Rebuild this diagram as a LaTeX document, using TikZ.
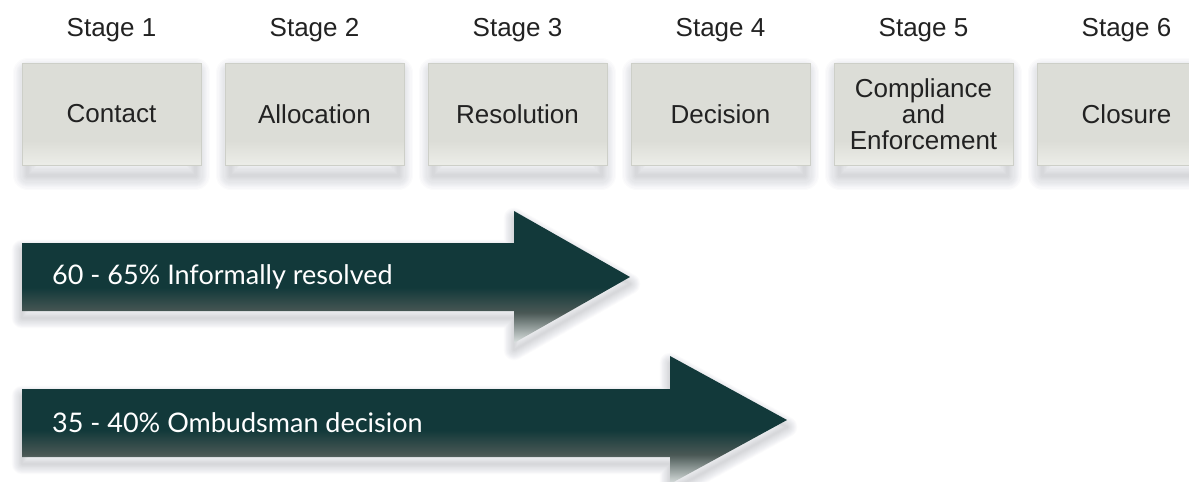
\documentclass[tikz,border=0pt]{standalone}
\usepackage{fontspec}
\setmainfont{Liberation Sans}
\newfontfamily\arrowfont{Lato}
\usetikzlibrary{backgrounds}

\definecolor{textgray}{HTML}{222222}
\definecolor{boxtop}{HTML}{DCDDD7}
\definecolor{boxlow}{HTML}{ECEDE8}
\definecolor{boxedge}{HTML}{CDCFC8}
\definecolor{tealdark}{HTML}{12393A}
\definecolor{tealmid}{HTML}{4A5855}
\definecolor{teallow}{HTML}{DDE3E2}
\definecolor{shadowtint}{HTML}{30344A}

% stage boxes: flat grey with a lighter band along the bottom
\pgfdeclareverticalshading{boxshade}{100bp}{%
  color(0bp)=(boxlow); color(25bp)=(boxlow); color(37bp)=(boxtop); color(100bp)=(boxtop)}
% outcome arrows: dark teal that lightens towards the lower edge
\pgfdeclareverticalshading{arrowshade}{100bp}{%
  color(0bp)=(teallow); color(25bp)=(teallow); color(36.5bp)=(tealmid);
  color(46bp)=(tealdark); color(100bp)=(tealdark)}

% soft drop shadow: stacked faint strokes of growing width
% #1 = opacity of one layer, #2 = width step, #3 = path
\newcommand\softshadow[3]{%
  \foreach \k in {1,...,12} {
    \draw[shadowtint, opacity=#1, line width=\k*#2, line join=round] #3;
  }}

% outlines of the two outcome arrows
\def\arrowone{(22,243) -- (514,243) -- (514,211) -- (630,277)
  -- (514,343) -- (514,311) -- (22,311) -- cycle}
\def\arrowtwo{(22,389) -- (670,389) -- (670,356) -- (787,420)
  -- (670,484) -- (670,457) -- (22,457) -- cycle}

\begin{document}
\begin{tikzpicture}[x=1pt,y=-1pt,
  boxfont/.style={font=\fontsize{26}{26}\selectfont},
  stagebox/.style={boxfont, minimum width=179pt, minimum height=102pt,
    inner sep=0pt, align=center, text=textgray, shading=boxshade,
    draw=boxedge, line width=0.8pt},
  stagelabel/.style={boxfont, text=textgray, inner sep=0pt},
  outcome/.style={shading=arrowshade},
  outcometext/.style={font=\arrowfont\fontsize{27}{27}\selectfont,
    text=white, anchor=west, inner sep=0pt},
  ]
\useasboundingbox (0,0) rectangle (1189,482);

% the six stages
\foreach \i/\t in {1/Contact,2/Allocation,3/Resolution,4/Decision,
    5/{Compliance\\and\\Enforcement},6/Closure} {
  \node[stagebox] (box\i) at ({111.5+203*(\i-1)},114) {\t};
  \node[stagelabel] (lab\i) at ({111.5+203*(\i-1)},30) {Stage \i};
}

\begin{pgfonlayer}{background}
  \fill[white] (0,0) rectangle (1189,482);
  \foreach \i in {1,...,6} {
    \softshadow{0.016}{2.4pt}{([xshift=6pt,yshift=-10pt]box\i.south west)
      rectangle ([xshift=-6pt,yshift=-10pt]box\i.north east)}
  }
\end{pgfonlayer}

% outcome arrows
\begin{scope}[yshift=-7pt]
  \softshadow{0.017}{1.7pt}{\arrowone}
  \softshadow{0.017}{1.7pt}{\arrowtwo}
\end{scope}

\path[outcome] \arrowone;
\node[outcometext] (informal) at (52,277) {60 - 65\% Informally resolved};

\path[outcome] \arrowtwo;
\node[outcometext] (decision) at (52,423) {35 - 40\% Ombudsman decision};
\end{tikzpicture}
\end{document}
